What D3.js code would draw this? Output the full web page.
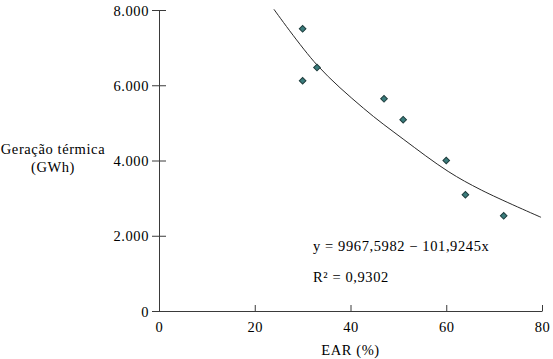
<!DOCTYPE html>
<html><head><meta charset="utf-8">
<script src="https://cdn.jsdelivr.net/npm/d3@7"></script>
<style>body{margin:0;background:#fff}svg{display:block}svg text{font-family:"Liberation Serif","Times New Roman",Tinos,"DejaVu Serif",serif !important;fill:#000}</style>
</head><body><svg id="c" width="553" height="359"></svg>
<script>
const earValues = [30, 33, 30, 47, 51, 60, 64, 72];
const geracaoValues = [7500, 6470, 6120, 5640, 5085, 4000, 3090, 2530];
const curveEar = [24, 33, 42.7, 51, 60.4, 67.4, 79.8];
const curveGeracao = [8020, 6540, 5390, 4570, 3710, 3210, 2490];
const xTicks = [0, 20, 40, 60, 80];
const yTicks = [0, 2000, 4000, 6000, 8000];
const equationText = "y = 9967,5982 \u2212 101,9245x";
const r2Text = "R\u00b2 = 0,9302";
const xTitle = "EAR (%)";
const yTitleLines = ["Gera\u00e7\u00e3o t\u00e9rmica", "(GWh)"];

const svg = d3.select("#c");
const x = d3.scaleLinear().domain([0, 80]).range([159, 542]);
const y = d3.scaleLinear().domain([0, 8000]).range([311, 10]);
const loc = d3.formatLocale({decimal: ",", thousands: ".", grouping: [3], currency: ["", ""]});
const fmt = loc.format(",");
const axisColor = "#3a3a3a";
const fs = "14.5px", ls = "0.6px";
const ff = '"Liberation Serif", "Times New Roman", serif';

// Y axis
const gy = svg.append("g").attr("transform", `translate(${x(0)},0)`)
  .call(d3.axisLeft(y).tickValues(yTicks).tickFormat(fmt).tickSizeInner(7).tickSizeOuter(0).tickPadding(3));
gy.attr("font-family", ff);
gy.select(".domain").attr("stroke", axisColor);
gy.selectAll(".tick line").attr("x1", 7).attr("x2", -7).attr("stroke", axisColor);
gy.selectAll(".tick text").attr("x", -10).attr("dy", "0.35em")
  .style("font-size", fs).style("letter-spacing", ls).attr("fill", "#000");

// X axis
const gx = svg.append("g").attr("transform", `translate(0,${y(0)})`)
  .call(d3.axisBottom(x).tickValues(xTicks).tickSizeInner(-6).tickSizeOuter(0).tickPadding(0));
gx.attr("font-family", ff);
gx.select(".domain").attr("stroke", axisColor);
gx.selectAll(".tick line").attr("stroke", axisColor);
gx.selectAll(".tick text").attr("y", 21).attr("dy", 0)
  .style("font-size", fs).style("letter-spacing", ls).attr("fill", "#000");

// Titles
svg.append("text").attr("x", (x(0) + x(80)) / 2).attr("y", 355).attr("text-anchor", "middle")
  .style("font-size", fs).style("letter-spacing", ls).text(xTitle);
svg.append("text").attr("x", 53).attr("y", 154).attr("text-anchor", "middle")
  .style("font-size", fs).style("letter-spacing", ls)
  .selectAll("tspan").data(yTitleLines).join("tspan")
  .attr("x", 53).attr("dy", (d, i) => i === 0 ? 0 : 18).text(d => d);

// Curve
const curveData = curveEar.map((e, i) => ({e, g: curveGeracao[i]}));
svg.append("path").datum(curveData)
  .attr("d", d3.line().x(d => x(d.e)).y(d => y(d.g)).curve(d3.curveCatmullRom))
  .attr("fill", "none").attr("stroke", "#2a2a2a").attr("stroke-width", 1);

// Points
const pts = earValues.map((e, i) => ({e, g: geracaoValues[i]}));
svg.selectAll(".pt").data(pts).join("path").attr("class", "pt")
  .attr("d", d3.symbol(d3.symbolSquare, 22))
  .attr("transform", d => `translate(${x(d.e)},${y(d.g)}) rotate(45)`)
  .attr("fill", "#3a7c7c").attr("stroke", "#1f3d3d").attr("stroke-width", 1);

// Equation
svg.append("text").attr("x", 313).attr("y", 251).style("font-size", fs).style("letter-spacing", ls).text(equationText);
svg.append("text").attr("x", 313).attr("y", 282).style("font-size", fs).style("letter-spacing", ls).text(r2Text);
</script></body></html>
